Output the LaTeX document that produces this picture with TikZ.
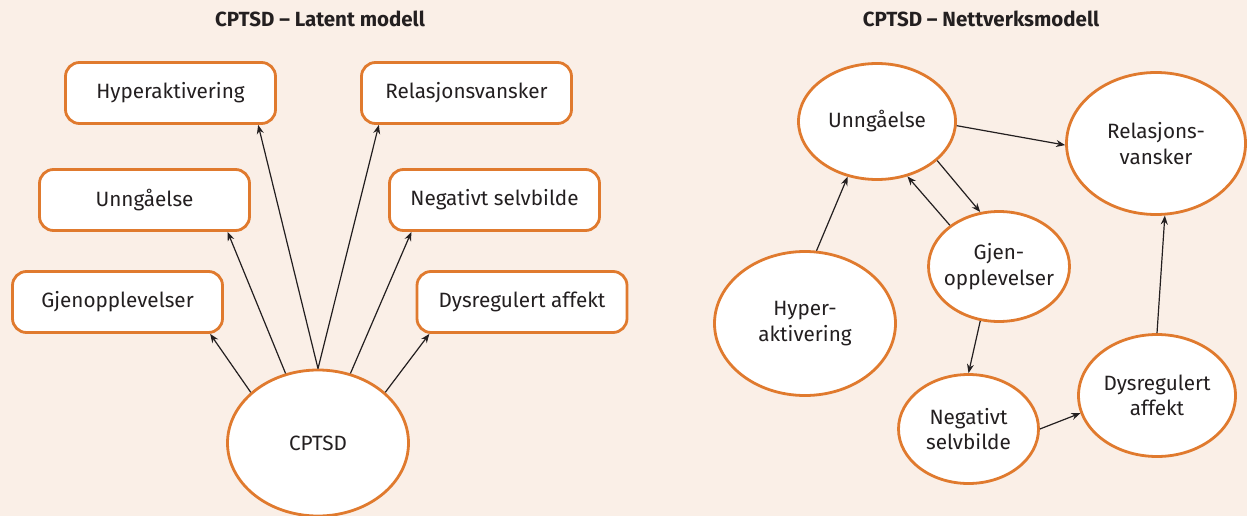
\documentclass[tikz,border=0pt]{standalone}
\usepackage{fontspec}
\setmainfont{Fira Sans}
\usetikzlibrary{shapes.geometric,arrows.meta}
\definecolor{bgpeach}{HTML}{FAEFE7}
\definecolor{boxorange}{HTML}{E07A2E}
\definecolor{inkgray}{HTML}{231F20}

\begin{document}
\begin{tikzpicture}[x=1pt,y=-1pt,
        >={Stealth[length=9pt,width=7pt]},
        box/.style={rectangle,rounded corners=14pt,draw=boxorange,line width=2.8pt,
            fill=white,minimum width=210pt,minimum height=61pt,inner sep=0pt,
            font=\fontsize{20.7}{25.5}\selectfont,text=inkgray},
        ell/.style={ellipse,draw=boxorange,line width=2.8pt,fill=white,
            inner xsep=-12pt,inner ysep=0pt,align=center,
            font=\fontsize{20.7}{25.5}\selectfont,text=inkgray},
        title/.style={font=\bfseries\fontsize{20.5}{24}\selectfont,text=inkgray},
        link/.style={->,line width=1.2pt,draw=inkgray}]
    \fill[bgpeach] (0,0) rectangle (1247,516);
    \useasboundingbox (0,0) rectangle (1247,516);

    % latent model
    \node[title] (ltitle) at (320,19) {CPTSD – Latent modell};
    \node[box] (lhyp) at (170.5,93) {Hyperaktivering};
    \node[box] (lrel) at (466.5,93) {Relasjonsvansker};
    \node[box] (lunn) at (144.5,200) {Unngåelse};
    \node[box] (lneg) at (494.5,200) {Negativt selvbilde};
    \node[box] (lgje) at (117.5,302) {Gjenopplevelser};
    \node[box] (ldys) at (522,302) {Dysregulert affekt};
    \node[ell,minimum width=181pt,minimum height=146pt] (cptsd) at (318,443) {CPTSD};

    \draw[link] (cptsd.143) -- (lgje.-19);
    \draw[link] (cptsd.115) -- (lunn.-21);
    \draw[link] (cptsd.north) -- (lhyp.-20);
    \draw[link] (cptsd.north) -- (lrel.200);
    \draw[link] (cptsd.65) -- (lneg.201);
    \draw[link] (cptsd.37) -- (ldys.199);

    % network model
    \node[title] (rtitle) at (981,19) {CPTSD – Nettverksmodell};
    \node[ell,minimum width=157pt,minimum height=116pt] (unn) at (877,121.5) {Unngåelse};
    \node[ell,minimum width=179pt,minimum height=142pt] (rel) at (1156,143.5) {Relasjons-\\vansker};
    \node[ell,minimum width=141pt,minimum height=110pt] (gje) at (999,266.5) {Gjen-\\opplevelser};
    \node[ell,minimum width=181pt,minimum height=144pt] (hyp) at (805,323.5) {Hyper-\\aktivering};
    \node[ell,minimum width=140pt,minimum height=109pt] (neg) at (968.5,429) {Negativt\\selvbilde};
    \node[ell,minimum width=157pt,minimum height=122pt] (dys) at (1157,395.5) {Dysregulert\\affekt};

    \draw[link] (unn.-3) -- (rel.181);
    \draw[link] (unn.-33) -- (gje.109);
    \draw[link] (gje.140) -- (unn.-61);
    \draw[link] (hyp.81) -- (unn.-118);
    \draw[link] (gje.-109) -- (neg.north);
    \draw[link] (neg.east) -- (dys.193);
    \draw[link] (dys.north) -- (rel.-83);
\end{tikzpicture}
\end{document}
